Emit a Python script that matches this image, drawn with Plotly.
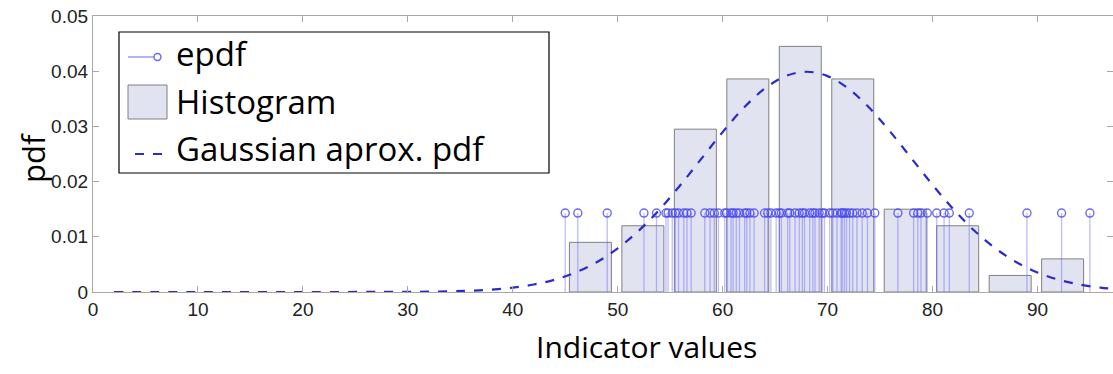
import plotly.graph_objects as go

# ---------------- data ----------------
samples = [
    45.0, 46.2, 49.0,
    52.5, 53.7, 54.6, 54.8,
    55.2, 55.5, 55.8, 56.3, 56.6, 57.0, 58.3, 58.8, 59.2, 59.6,
    60.2, 60.4, 60.8, 61.0, 61.3, 61.6, 62.1, 62.3, 62.6, 63.0, 64.0, 64.3, 64.6,
    65.1, 65.4, 65.6, 66.2, 66.4, 66.9, 67.3, 67.6, 67.8, 68.3, 68.6, 68.8, 69.2, 69.5, 69.7,
    70.2, 70.5, 70.9, 71.3, 71.4, 71.6, 71.8, 72.1, 72.4, 72.8, 73.3, 73.8, 74.5,
    76.7, 78.2, 78.6, 78.9, 79.5,
    80.4, 81.1, 81.6, 83.5,
    89.0,
    92.3, 95.0,
]
epdf_level = 0.0143

hist_centers = [47.4, 52.4, 57.4, 62.4, 67.4, 72.4, 77.4, 82.4, 87.4, 92.4]
hist_heights = [0.009, 0.012, 0.0295, 0.0386, 0.0445, 0.0386, 0.015, 0.012, 0.003, 0.006]

gauss_x = [2, 10, 20, 30, 34, 36, 38, 40, 42, 44, 46, 48, 50, 52, 54, 56, 58, 60, 62,
           64, 66, 68, 70, 72, 74, 76, 78, 80, 82, 84, 86, 88, 90, 92, 94, 96, 97]
gauss_y = [0.0, 0.0, 0.0, 0.00003, 0.00012, 0.00024, 0.00044, 0.00079, 0.00136, 0.00224,
           0.00355, 0.0054, 0.0079, 0.01109, 0.01497, 0.01942, 0.0242, 0.02897, 0.03333,
           0.03683, 0.03911, 0.0399, 0.03911, 0.03683, 0.03333, 0.02897, 0.0242, 0.01942,
           0.01497, 0.01109, 0.0079, 0.0054, 0.00355, 0.00224, 0.00136, 0.00079, 0.0006]

x_ticks = [0, 10, 20, 30, 40, 50, 60, 70, 80, 90]
y_ticks = [0, 0.01, 0.02, 0.03, 0.04, 0.05]
y_tick_text = ["0", "0.01", "0.02", "0.03", "0.04", "0.05"]

# ---------------- layout geometry ----------------
W, H = 1113, 374
PLOT_L, PLOT_R, PLOT_T, PLOT_B = 93, 1113, 16, 292   # window pixels
ML, MR, MT, MB = PLOT_L, W - PLOT_R, PLOT_T, H - PLOT_B
PW, PH = PLOT_R - PLOT_L, PLOT_B - PLOT_T


def px_x(p):
    return (p - PLOT_L) / PW


def px_y(p):
    return 1 - (p - PLOT_T) / PH


BAR_FILL = "#e2e3f0"
BAR_LINE = "#808080"
STEM_COL = "rgba(95,95,255,0.42)"
CIRC_COL = "rgba(70,70,240,0.8)"
GAUSS_COL = "#2b2bcc"
AX_COL = "#a8a8a8"
FONT = "Open Sans"

fig = go.Figure()

fig.add_trace(go.Bar(
    x=hist_centers, y=hist_heights, width=4.0,
    marker=dict(color=BAR_FILL, line=dict(color=BAR_LINE, width=1)),
    name="Histogram", showlegend=False,
))

stem_x, stem_y = [], []
for s in samples:
    stem_x += [s, s, None]
    stem_y += [0, epdf_level, None]
fig.add_trace(go.Scatter(
    x=stem_x, y=stem_y, mode="lines",
    line=dict(color=STEM_COL, width=1.3),
    showlegend=False, hoverinfo="skip",
))
fig.add_trace(go.Scatter(
    x=samples, y=[epdf_level] * len(samples), mode="markers",
    marker=dict(symbol="circle-open", size=8, color=CIRC_COL, line=dict(width=1.4)),
    name="epdf", showlegend=False,
))

fig.add_trace(go.Scatter(
    x=gauss_x, y=gauss_y, mode="lines", line_shape="spline",
    line=dict(color=GAUSS_COL, width=2.2, dash="dash"),
    name="Gaussian aprox. pdf", showlegend=False,
))

# ---------------- manual legend ----------------
shapes = [
    dict(type="rect", xref="paper", yref="paper",
         x0=px_x(119), x1=px_x(549), y0=px_y(173), y1=px_y(32),
         line=dict(color="black", width=1.2), fillcolor="white", layer="above"),
    dict(type="line", xref="paper", yref="paper",
         x0=px_x(128), x1=px_x(154), y0=px_y(57), y1=px_y(57),
         line=dict(color="rgba(90,90,255,0.7)", width=1.3), layer="above"),
    dict(type="circle", xref="paper", yref="paper",
         x0=px_x(154), x1=px_x(161), y0=px_y(60.5), y1=px_y(53.5),
         line=dict(color=CIRC_COL, width=1.4), layer="above"),
    dict(type="rect", xref="paper", yref="paper",
         x0=px_x(128), x1=px_x(167), y0=px_y(119), y1=px_y(85),
         line=dict(color=BAR_LINE, width=1), fillcolor=BAR_FILL, layer="above"),
    dict(type="line", xref="paper", yref="paper",
         x0=px_x(135), x1=px_x(167), y0=px_y(154), y1=px_y(154),
         line=dict(color=GAUSS_COL, width=2.2, dash="dash"), layer="above"),
]

legend_texts = ["epdf", "Histogram", "Gaussian aprox. pdf"]
legend_rows = [53, 101, 149]
annotations = []
for t, r in zip(legend_texts, legend_rows):
    annotations.append(dict(
        text=t, xref="paper", yref="paper", x=px_x(174), y=px_y(r),
        xanchor="left", yanchor="middle", showarrow=False,
        font=dict(family=FONT, size=33, color="black"),
    ))

annotations.append(dict(
    text="Indicator values", xref="paper", yref="paper",
    x=px_x(646), y=px_y(346), xanchor="center", yanchor="middle", showarrow=False,
    font=dict(family=FONT, size=30, color="black"),
))
annotations.append(dict(
    text="pdf", xref="paper", yref="paper", textangle=-90,
    x=px_x(33), y=px_y(158), xanchor="center", yanchor="middle", showarrow=False,
    font=dict(family=FONT, size=31, color="black"),
))

fig.update_layout(
    width=W, height=H,
    margin=dict(l=ML, r=MR, t=MT, b=MB, autoexpand=False),
    paper_bgcolor="white", plot_bgcolor="white",
    barmode="overlay",
    shapes=shapes, annotations=annotations,
    showlegend=False,
    xaxis=dict(
        range=[0, 97.2], tickvals=x_ticks, ticks="inside", ticklen=6,
        tickcolor=AX_COL, showline=True, linecolor=AX_COL, linewidth=1.2,
        mirror="ticks", showgrid=False, zeroline=False, ticklabeloverflow="allow",
        tickfont=dict(family="Liberation Sans", size=19, color="#222"),
    ),
    yaxis=dict(
        range=[0, 0.05], tickvals=y_ticks, ticktext=y_tick_text, ticks="inside",
        ticklen=6, tickcolor=AX_COL, showline=True, linecolor=AX_COL, linewidth=1.2,
        mirror="ticks", showgrid=False, zeroline=False, ticklabeloverflow="allow",
        tickfont=dict(family="Liberation Sans", size=19, color="#222"),
    ),
)

fig.write_html("out.html", config={"displayModeBar": False},
               post_script="document.body.style.margin='0px';")
